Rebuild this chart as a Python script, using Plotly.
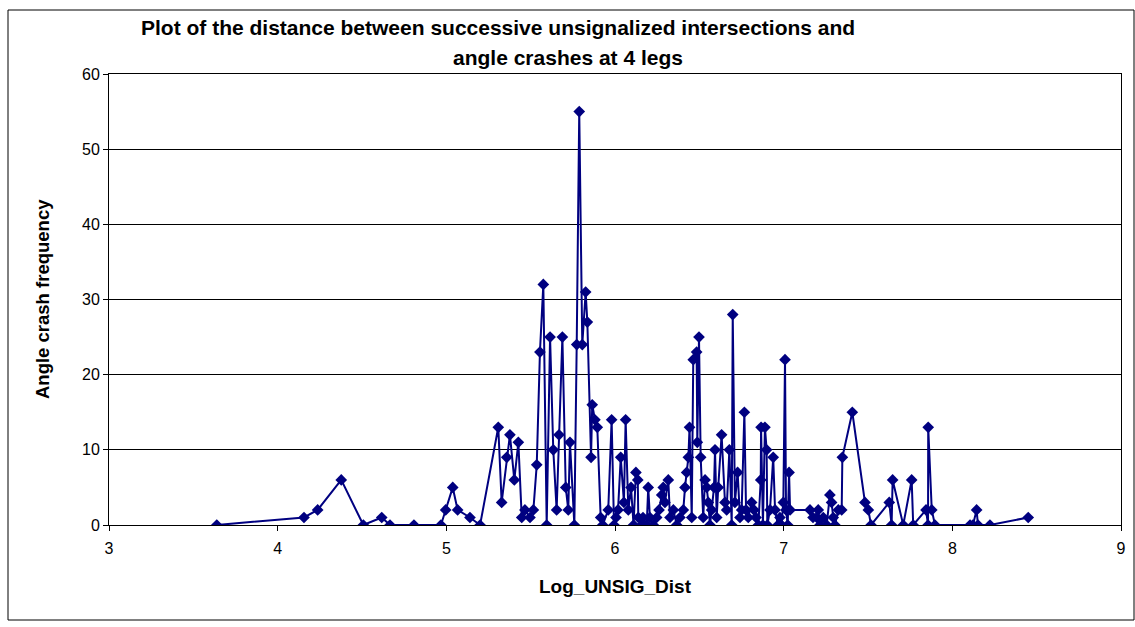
import plotly.graph_objects as go

# Log of distance between successive unsignalized intersections (sorted)
log_unsig_dist = [
    3.639, 4.156, 4.237, 4.377, 4.508, 4.617, 4.666, 4.808, 4.968, 4.996,
    5.038, 5.067, 5.140, 5.200, 5.308, 5.328, 5.358, 5.377, 5.403, 5.427,
    5.447, 5.466, 5.496, 5.516, 5.536, 5.555, 5.575, 5.595, 5.615, 5.634,
    5.654, 5.668, 5.688, 5.708, 5.723, 5.733, 5.759, 5.773, 5.788, 5.806,
    5.826, 5.836, 5.858, 5.865, 5.881, 5.895, 5.915, 5.927, 5.960, 5.980,
    5.994, 6.006, 6.018, 6.034, 6.053, 6.063, 6.079, 6.095, 6.110, 6.124,
    6.135, 6.138, 6.158, 6.166, 6.188, 6.197, 6.207, 6.227, 6.247, 6.261,
    6.277, 6.286, 6.296, 6.316, 6.326, 6.346, 6.366, 6.385, 6.405, 6.415,
    6.425, 6.435, 6.442, 6.455, 6.464, 6.484, 6.488, 6.498, 6.508, 6.523,
    6.534, 6.544, 6.553, 6.563, 6.573, 6.587, 6.593, 6.603, 6.612, 6.632,
    6.652, 6.662, 6.678, 6.692, 6.698, 6.711, 6.727, 6.741, 6.751, 6.767,
    6.777, 6.790, 6.810, 6.824, 6.836, 6.850, 6.864, 6.866, 6.877, 6.889,
    6.899, 6.903, 6.919, 6.938, 6.949, 6.966, 6.978, 6.987, 6.998, 7.008,
    7.014, 7.024, 7.032, 7.038, 7.156, 7.174, 7.196, 7.205, 7.215, 7.235,
    7.255, 7.274, 7.284, 7.294, 7.304, 7.324, 7.344, 7.348, 7.407, 7.482,
    7.502, 7.518, 7.626, 7.640, 7.646, 7.709, 7.759, 7.768, 7.844, 7.856,
    7.857, 7.878, 7.897, 8.105, 8.122, 8.144, 8.152, 8.223, 8.450,
]

# Angle crash frequency at 4-leg intersections
angle_crashes = [
    0, 1, 2, 6, 0, 1, 0, 0, 0, 2,
    5, 2, 1, 0, 13, 3, 9, 12, 6, 11,
    1, 2, 1, 2, 8, 23, 32, 0, 25, 10,
    2, 12, 25, 5, 2, 11, 0, 24, 55, 24,
    31, 27, 9, 16, 14, 13, 1, 0, 2, 14,
    0, 1, 2, 9, 3, 14, 2, 5, 0, 7,
    6, 1, 0, 1, 0, 5, 1, 0, 1, 2,
    4, 5, 3, 6, 1, 2, 0, 1, 2, 5,
    7, 9, 13, 1, 22, 23, 11, 25, 9, 1,
    6, 5, 3, 0, 2, 5, 10, 1, 5, 12,
    3, 2, 10, 0, 28, 3, 7, 1, 2, 15,
    2, 1, 3, 2, 1, 0, 6, 13, 0, 13,
    10, 0, 2, 9, 2, 0, 1, 0, 3, 22,
    2, 0, 7, 2, 2, 1, 1, 2, 0, 1,
    0, 4, 3, 1, 0, 2, 2, 9, 15, 3,
    2, 0, 3, 0, 6, 0, 6, 0, 2, 0,
    13, 2, 0, 0, 0, 2, 0, 0, 1,
]

x_ticks = [3, 4, 5, 6, 7, 8, 9]
y_ticks = [0, 10, 20, 30, 40, 50, 60]

title_lines = [
    "Plot of the distance between successive unsignalized intersections and",
    "angle crashes at 4 legs",
]
x_title = "Log_UNSIG_Dist"
y_title = "Angle crash frequency"

NAVY = "#000080"
FONT = "Liberation Sans, Arial, sans-serif"

W, H = 1135, 627
L, R, T, B = 109, 14, 74, 102
PW, PH = W - L - R, H - T - B


def px_to_paper_x(px):
    return (px - L) / PW


def px_to_paper_y(py):
    return (H - B - py) / PH


fig = go.Figure()
fig.add_trace(go.Scatter(
    x=log_unsig_dist,
    y=angle_crashes,
    mode="lines+markers",
    line=dict(color=NAVY, width=2),
    marker=dict(symbol="diamond", size=9, color=NAVY),
    showlegend=False,
    hoverinfo="x+y",
))

axis_common = dict(
    showline=True,
    linecolor="#000000",
    linewidth=1,
    mirror=True,
    ticks="outside",
    ticklen=5,
    tickcolor="#000000",
    tickfont=dict(family=FONT, size=16, color="#000000"),
    zeroline=False,
)

fig.update_xaxes(
    range=[x_ticks[0], x_ticks[-1]],
    tickvals=x_ticks,
    ticktext=[str(v) for v in x_ticks],
    showgrid=False,
    ticklabelstandoff=4,
    **axis_common,
)
fig.update_yaxes(
    range=[y_ticks[0], y_ticks[-1]],
    tickvals=y_ticks,
    ticktext=[str(v) for v in y_ticks],
    showgrid=True,
    gridcolor="#000000",
    gridwidth=1,
    **axis_common,
)

annotations = [
    dict(text="<b>%s</b>" % title_lines[0], x=px_to_paper_x(498), y=px_to_paper_y(28),
         font=dict(family=FONT, size=21, color="#000000")),
    dict(text="<b>%s</b>" % title_lines[1], x=px_to_paper_x(568), y=px_to_paper_y(57),
         font=dict(family=FONT, size=21, color="#000000")),
    dict(text="<b>%s</b>" % x_title, x=px_to_paper_x(615), y=px_to_paper_y(586),
         font=dict(family=FONT, size=19, color="#000000")),
    dict(text="<b>%s</b>" % y_title, x=px_to_paper_x(42), y=px_to_paper_y(299),
         textangle=-90, font=dict(family=FONT, size=18.5, color="#000000")),
]
for a in annotations:
    a.update(xref="paper", yref="paper", showarrow=False,
             xanchor="center", yanchor="middle")

# Outer chart frame
frame = dict(
    type="rect", xref="paper", yref="paper",
    x0=px_to_paper_x(8), x1=px_to_paper_x(1134),
    y0=px_to_paper_y(620), y1=px_to_paper_y(10),
    line=dict(color="#000000", width=1), layer="below",
)

fig.update_layout(
    width=W, height=H,
    margin=dict(l=L, r=R, t=T, b=B, autoexpand=False),
    paper_bgcolor="#ffffff",
    plot_bgcolor="#ffffff",
    annotations=annotations,
    shapes=[frame],
    font=dict(family=FONT, color="#000000"),
)

fig.write_html("out.html")
